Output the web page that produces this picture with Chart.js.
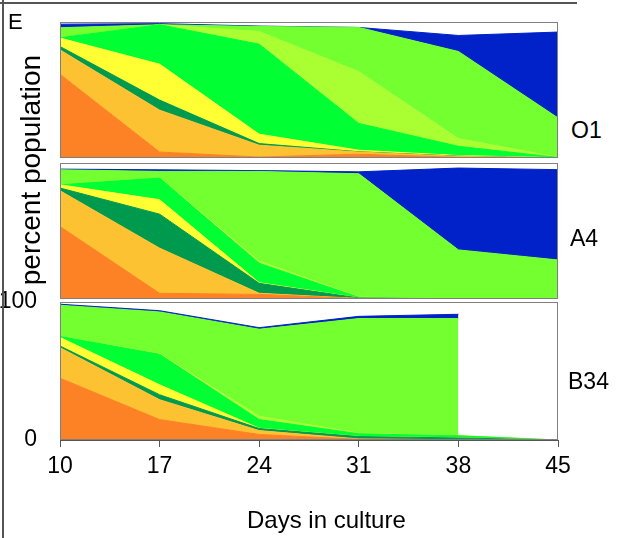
<!DOCTYPE html>
<html><head><meta charset="utf-8">
<script src="https://cdn.jsdelivr.net/npm/chart.js@4.4.1/dist/chart.umd.min.js"></script>
<style>
html,body{margin:0;padding:0;background:#fff;}
body{width:618px;height:538px;position:relative;overflow:hidden;font-family:"Liberation Sans",Arial,sans-serif;}
canvas{position:absolute;}
.lbl{position:absolute;font-size:23px;color:#000;line-height:1;white-space:nowrap;}
#frameL{position:absolute;left:2px;top:0;width:2px;height:538px;background:#555;}
#frameT{position:absolute;left:0;top:2px;width:577px;height:2px;background:#555;}
#ytitle{position:absolute;left:31px;top:170px;font-size:28px;line-height:1;white-space:nowrap;transform:translate(-50%,-50%) rotate(-90deg);}
</style></head><body>
<canvas id="cO1" width="500" height="138" style="left:59px;top:21px;"></canvas>
<canvas id="cA4" width="500" height="138" style="left:59px;top:162px;"></canvas>
<canvas id="cB34" width="618" height="283" style="left:0px;top:255px;"></canvas>
<div id="frameL"></div><div id="frameT"></div>
<div class="lbl" style="left:8px;top:11px;font-size:22px;">E</div>
<div id="ytitle">percent population</div>
<div class="lbl" style="left:571px;top:119px;">O1</div>
<div class="lbl" style="left:570px;top:227px;">A4</div>
<div class="lbl" style="left:568px;top:370px;">B34</div>
<div class="lbl" style="left:247px;top:508px;font-size:24px;">Days in culture</div>
<script>
// ---- data ----
const days = ['10', '17', '24', '31', '38', '45'];
const yTickValues = [0, 100];

// O1 (bottom to top)
const o1Orange = [61.6, 4.4, 0.7, 2.8, 0.5, 0];
const o1Gold   = [17.9, 30.8, 8.7, 1.6, 0.7, 0];
const o1DkGreen= [2.5, 7.4, 1.2, 0.2, 0.2, 0];
const o1Yellow = [6.2, 26.4, 6.9, 1.1, 0.4, 0.2];
const o1Bright = [0.2, 29.0, 66.2, 19.7, 6.8, 0.2];
const o1YGreen = [0, 0, 9.3, 38.1, 5.7, 0.1];
const o1Lime   = [7.4, 0, 3.7, 32.5, 64.0, 29.0];
const o1Blue   = [2.6, 0.8, 0.3, 0, 11.8, 63.1];

// A4
const a4Orange = [53.3, 4.2, 3.4, 0.3, 0, 0];
const a4Gold   = [26.3, 33.2, 0.8, 0.1, 0, 0];
const a4DkGreen= [2.0, 25.0, 7.3, 0.4, 0, 0];
const a4Yellow = [2.4, 10.6, 0.5, 0.1, 0, 0];
const a4Bright = [0, 15.9, 14.3, 0.3, 0, 0];
const a4YGreen = [0, 0, 1.7, 0.3, 0, 0];
const a4Lime   = [11.0, 4.9, 65.8, 90.6, 36.1, 28.7];
const a4Blue   = [0.5, 1.2, 0.6, 1.4, 60.2, 66.4];

// B34
const b34Orange = [44.8, 14.8, 4.0, 0.5, 0, 0];
const b34Gold   = [22.1, 14.4, 2.8, 0.3, 0.2, 0];
const b34DkGreen= [1.2, 3.6, 1.5, 1.7, 1.3, 0];
const b34Yellow = [6.2, 7.2, 0.2, 0.1, 0.1, 0];
const b34Bright = [0.7, 22.1, 6.3, 1.9, 1.4, 0];
const b34YGreen = [0, 0.4, 2.4, 0.5, 0.2, 0];
const b34Lime   = [22.6, 30.3, 63.1, 83.0, 84.8, null];
const b34Blue   = [0.8, 0.9, 1.1, 1.6, 3.1, null];

// ---- styles ----
const colors = ['#FD8225', '#FDC232', '#009A4E', '#FFFF33', '#00FF33', '#AAFF33', '#73FF30', '#0022C8'];
const FONT = '"Liberation Sans", Arial, sans-serif';

function buildDatasets(arrs) {
  return arrs.map((d, i) => ({
    data: d,
    backgroundColor: colors[i],
    borderColor: colors[i],
    borderWidth: 1,
    pointRadius: 0,
    tension: 0,
    fill: i === 0 ? 'origin' : '-1'
  }));
}

const boxPlugin = {
  id: 'box',
  afterDatasetsDraw(chart) {
    const {ctx, chartArea: a} = chart;
    ctx.save();
    ctx.strokeStyle = '#808080';
    ctx.lineWidth = 1;
    ctx.strokeRect(Math.round(a.left) + 0.5, Math.round(a.top) + 0.5,
                   Math.round(a.right - a.left) - 1, Math.round(a.bottom - a.top) - 1);
    ctx.restore();
  }
};

function smallPanel(id, arrs) {
  return new Chart(document.getElementById(id), {
    type: 'line',
    data: {labels: days, datasets: buildDatasets(arrs)},
    options: {
      responsive: false, animation: false, devicePixelRatio: 1,
      layout: {padding: 1},
      plugins: {legend: {display: false}, tooltip: {enabled: false}},
      scales: {
        x: {display: false, offset: false},
        y: {display: false, stacked: true, min: 0, max: 100}
      }
    },
    plugins: [boxPlugin]
  });
}

smallPanel('cO1', [o1Orange, o1Gold, o1DkGreen, o1Yellow, o1Bright, o1YGreen, o1Lime, o1Blue]);
smallPanel('cA4', [a4Orange, a4Gold, a4DkGreen, a4Yellow, a4Bright, a4YGreen, a4Lime, a4Blue]);

new Chart(document.getElementById('cB34'), {
  type: 'line',
  data: {labels: days, datasets: buildDatasets([b34Orange, b34Gold, b34DkGreen, b34Yellow, b34Bright, b34YGreen, b34Lime, b34Blue])},
  options: {
    responsive: false, animation: false, devicePixelRatio: 1,
    layout: {padding: {left: 0, right: 60, top: 47, bottom: 0}},
    plugins: {legend: {display: false}, tooltip: {enabled: false}},
    scales: {
      x: {
        offset: false,
        grid: {display: true, drawOnChartArea: false, drawTicks: true, tickLength: 7, color: '#555', lineWidth: 1},
        border: {display: true, color: '#555', width: 1},
        ticks: {color: '#000', font: {family: FONT, size: 23}, padding: 6, maxRotation: 0, autoSkip: false},
        afterFit(s) { s.height = 98; }
      },
      y: {
        stacked: true, min: 0, max: 100,
        grid: {display: false, drawTicks: false},
        border: {display: false},
        afterBuildTicks(s) { s.ticks = yTickValues.map(v => ({value: v})); },
        ticks: {color: '#000', font: {family: FONT, size: 23}, padding: 23},
        afterFit(s) { s.width = 60; }
      }
    }
  },
  plugins: [boxPlugin]
});
</script>
</body></html>
